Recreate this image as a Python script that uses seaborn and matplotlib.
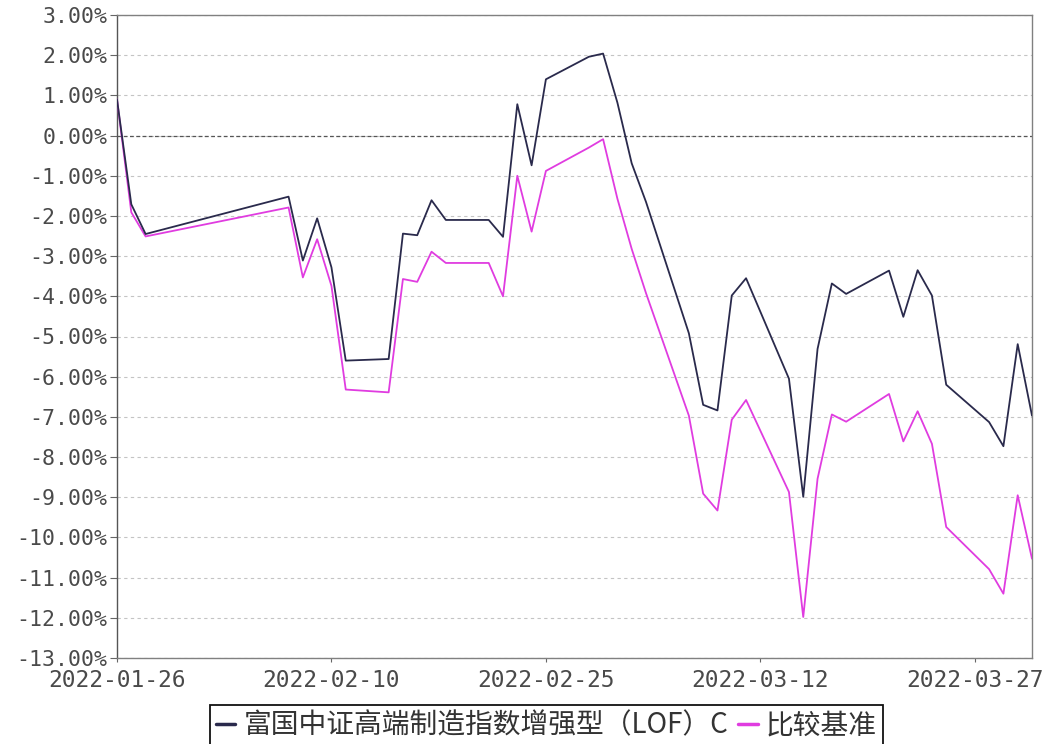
import matplotlib
matplotlib.use("Agg")
import matplotlib.pyplot as plt
import matplotlib.dates as mdates
from matplotlib.ticker import MultipleLocator, FuncFormatter
from matplotlib.font_manager import FontProperties
import seaborn as sns
import pandas as pd

dates = ["2022-01-26", "2022-01-27", "2022-01-28", "2022-02-07", "2022-02-08",
         "2022-02-09", "2022-02-10", "2022-02-11", "2022-02-14", "2022-02-15",
         "2022-02-16", "2022-02-17", "2022-02-18", "2022-02-21", "2022-02-22",
         "2022-02-23", "2022-02-24", "2022-02-25", "2022-02-28", "2022-03-01",
         "2022-03-02", "2022-03-03", "2022-03-04", "2022-03-07", "2022-03-08",
         "2022-03-09", "2022-03-10", "2022-03-11", "2022-03-14", "2022-03-15",
         "2022-03-16", "2022-03-17", "2022-03-18", "2022-03-21", "2022-03-22",
         "2022-03-23", "2022-03-24", "2022-03-25", "2022-03-28", "2022-03-29",
         "2022-03-30", "2022-03-31"]

fund = [0.90, -1.71, -2.45, -1.52, -3.11, -2.06, -3.28, -5.60, -5.56, -2.44,
        -2.48, -1.61, -2.10, -2.10, -2.52, 0.78, -0.74, 1.40, 1.96, 2.04,
        0.82, -0.69, -1.65, -4.92, -6.70, -6.84, -3.98, -3.55, -6.05, -8.99,
        -5.31, -3.68, -3.94, -3.36, -4.51, -3.35, -3.98, -6.20, -7.13, -7.73,
        -5.19, -6.97]

bench = [0.90, -1.91, -2.51, -1.79, -3.53, -2.58, -3.74, -6.32, -6.39, -3.57,
         -3.64, -2.89, -3.17, -3.17, -4.00, -1.00, -2.39, -0.88, -0.30, -0.09,
         -1.57, -2.82, -3.92, -6.97, -8.91, -9.33, -7.07, -6.58, -8.87, -11.98,
         -8.54, -6.94, -7.12, -6.43, -7.61, -6.86, -7.67, -9.74, -10.79, -11.40,
         -8.95, -10.53]

series_names = ["富国中证高端制造指数增强型（LOF）C", "比较基准"]
series_colors = ["#2a2a4c", "#e03ce0"]
tick_dates = ["2022-01-26", "2022-02-10", "2022-02-25", "2022-03-12", "2022-03-27"]
x_start, x_end = "2022-01-26", "2022-03-31"
y_min, y_max = -13, 3

sns.set_theme(style="white")
plt.rcParams["font.family"] = ["DejaVu Sans Mono", "DejaVu Sans"]

fig = plt.figure(figsize=(10.52, 7.44), dpi=100)
ax = fig.add_axes([117 / 1052, 1 - 658 / 744, (1032 - 117) / 1052, (658 - 15) / 744])

df = pd.DataFrame({"date": pd.to_datetime(dates), "fund": fund, "bench": bench})
sns.lineplot(data=df, x="date", y="fund", ax=ax, color=series_colors[0],
             linewidth=1.3, label=series_names[0], legend=False, zorder=4)
sns.lineplot(data=df, x="date", y="bench", ax=ax, color=series_colors[1],
             linewidth=1.3, label=series_names[1], legend=False, zorder=3)

ax.set_xlim(pd.Timestamp(x_start), pd.Timestamp(x_end))
ax.set_ylim(y_min, y_max)
ax.yaxis.set_major_locator(MultipleLocator(1))
ax.yaxis.set_major_formatter(FuncFormatter(lambda v, p: f"{v:.2f}%"))
ax.set_xticks(pd.to_datetime(tick_dates))
ax.xaxis.set_major_formatter(mdates.DateFormatter("%Y-%m-%d"))
ax.set_xlabel("")
ax.set_ylabel("")

ax.yaxis.grid(True, linestyle=(0, (3, 3)), color="#c4c4c4", linewidth=0.8)
ax.xaxis.grid(False)
ax.axhline(0, color="#555555", linestyle=(0, (3, 2)), linewidth=0.9, zorder=2)

for s in ax.spines.values():
    s.set_visible(True)
    s.set_color("#808080")
    s.set_linewidth(1.0)
ax.spines["left"].set_color("#555555")

ax.tick_params(axis="y", left=True, direction="out", length=5, width=0.8,
               color="#666666", pad=2, labelsize=15.5, labelcolor="#4a4a4a")
ax.tick_params(axis="x", bottom=True, direction="out", length=3, width=0.8,
               color="#666666", pad=5, labelsize=16.5, labelcolor="#4a4a4a")

handles, labels = ax.get_legend_handles_labels()
leg = fig.legend(handles, labels, loc="upper center",
                 bbox_to_anchor=(0.5195, 1 - 705 / 744), ncol=2,
                 frameon=True, fancybox=False, framealpha=1,
                 edgecolor="#111111",
                 prop=FontProperties(family=["Noto Sans CJK SC", "DejaVu Sans"], size=20),
                 handlelength=0.7, handletextpad=0.3, columnspacing=0.35,
                 borderpad=0.2, borderaxespad=0)
leg.get_frame().set_linewidth(1.3)
for t in leg.get_texts():
    t.set_color("#333333")
for h in leg.get_lines():
    h.set_linewidth(2.5)

fig.savefig("out.png", dpi=100)
